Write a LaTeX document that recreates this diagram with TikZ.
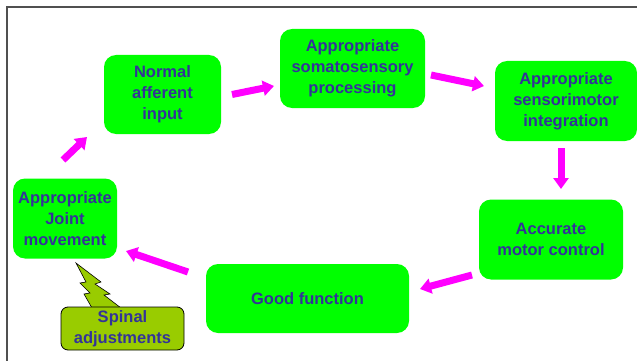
\documentclass[tikz,border=0pt]{standalone}
\usepackage{fontspec}
\setmainfont{Liberation Sans}
\usetikzlibrary{arrows.meta}
\definecolor{boxgreen}{RGB}{0,255,0}
\definecolor{txtblue}{RGB}{51,51,153}
\definecolor{olivegreen}{RGB}{153,204,0}
\definecolor{arrmag}{RGB}{255,0,255}
\definecolor{framegray}{RGB}{80,80,80}
\begin{document}
\begin{tikzpicture}[x=1pt,y=-1pt,
  box/.style={rectangle, rounded corners=12pt, fill=boxgreen, text=txtblue,
    font=\bfseries\fontsize{16.5}{21}\selectfont, align=center, inner sep=0pt},
  spinalbox/.style={rectangle, rounded corners=7pt, fill=olivegreen, draw=black, line width=0.8pt,
    text=txtblue, font=\bfseries\fontsize{16.5}{21}\selectfont, align=center, inner sep=0pt},
  flow/.style={draw=arrmag, line width=7pt, -{Triangle[width=15pt,length=11pt]}}]
\useasboundingbox (0,0) rectangle (637,361);
% frame
\draw[framegray, line width=1.4pt] (7,400) -- (7,7) -- (700,7);
% boxes
\node[box, minimum width=117pt, minimum height=79pt] (normal) at (162.5,94.5) {Normal\\afferent\\input};
\node[box, minimum width=145pt, minimum height=79pt] (soma) at (352.5,68.5) {Appropriate\\somatosensory\\processing};
\node[box, minimum width=142pt, minimum height=80pt] (senso) at (566,101) {Appropriate\\sensorimotor\\integration};
\node[box, minimum width=144pt, minimum height=80pt] (accurate) at (551,239.5) {Accurate\\motor control};
\node[box, minimum width=203pt, minimum height=69pt] (good) at (307.5,298.5) {Good function};
\node[box, minimum width=104pt, minimum height=80pt] (joint) at (65,218.5) {Appropriate\\Joint\\movement};
% callout
\fill[olivegreen, draw=black, line width=0.6pt] (76,263) -- (101,282) -- (95,284) -- (110,294) -- (104,295) -- (121,308) -- (92,308) -- (84,294) -- (90,293) -- (80,283) -- (86,282) -- cycle;
\node[spinalbox, minimum width=123pt, minimum height=43pt] (spinal) at (122.5,328.5) {Spinal\\adjustments};
% arrow coordinates
\coordinate (a1s) at (232,94.5);
\coordinate (a1e) at (274,86);
\coordinate (a2s) at (431,75);
\coordinate (a2e) at (484,86);
\coordinate (a3s) at (561,148);
\coordinate (a3e) at (561,189);
\coordinate (a4s) at (472,275);
\coordinate (a4e) at (420,289);
\coordinate (a5s) at (188,272);
\coordinate (a5e) at (126,251);
\coordinate (a6s) at (63,160);
\coordinate (a6e) at (87,137);
\draw[flow] (a1s) -- (a1e);
\draw[flow] (a2s) -- (a2e);
\draw[flow] (a3s) -- (a3e);
\draw[flow] (a4s) -- (a4e);
\draw[flow] (a5s) -- (a5e);
\draw[flow] (a6s) -- (a6e);
\end{tikzpicture}
\end{document}
